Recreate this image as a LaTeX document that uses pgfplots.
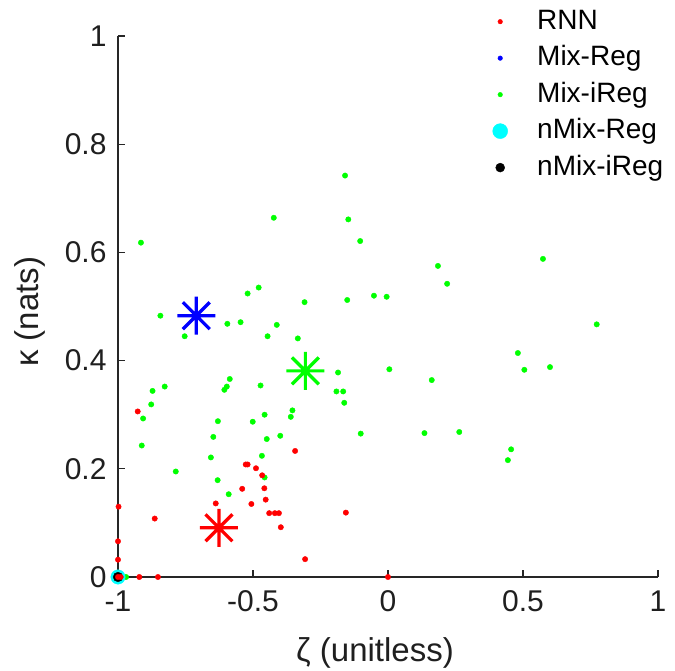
\documentclass[border=0pt]{standalone}
\usepackage{pgfplots}
\pgfplotsset{compat=1.18}
\usepackage{fontspec}
\setmainfont{Liberation Sans}
\definecolor{axgray}{RGB}{38,38,38}
\definecolor{mred}{RGB}{255,0,0}
\definecolor{mblue}{RGB}{0,0,255}
\definecolor{mgreen}{RGB}{0,255,0}
\definecolor{mcyan}{RGB}{0,255,255}
\pgfdeclareplotmark{mstar}{%
  \pgfpathmoveto{\pgfqpoint{-\pgfplotmarksize}{0pt}}%
  \pgfpathlineto{\pgfqpoint{\pgfplotmarksize}{0pt}}%
  \pgfpathmoveto{\pgfqpoint{0pt}{-\pgfplotmarksize}}%
  \pgfpathlineto{\pgfqpoint{0pt}{\pgfplotmarksize}}%
  \pgfpathmoveto{\pgfqpoint{-0.7071\pgfplotmarksize}{-0.7071\pgfplotmarksize}}%
  \pgfpathlineto{\pgfqpoint{0.7071\pgfplotmarksize}{0.7071\pgfplotmarksize}}%
  \pgfpathmoveto{\pgfqpoint{-0.7071\pgfplotmarksize}{0.7071\pgfplotmarksize}}%
  \pgfpathlineto{\pgfqpoint{0.7071\pgfplotmarksize}{-0.7071\pgfplotmarksize}}%
  \pgfusepathqstroke}
\begin{document}
\begin{tikzpicture}
\useasboundingbox (-118bp,-94bp) rectangle (557bp,577bp);
\begin{axis}[
  at={(0,0)}, anchor=south west, scale only axis,
  width=540bp, height=541bp,
  xmin=-1, xmax=1, ymin=0, ymax=1,
  clip=false,
  axis lines=left,
  axis line style={-, line width=1.4bp, color=axgray},
  xtick={-1,-0.5,0,0.5,1},
  ytick={0,0.2,0.4,0.6,0.8,1},
  tick align=inside,
  major tick length=7bp,
  tick style={line width=1.3bp, color=axgray},
  /pgf/number format/assume math mode=true,
  tick label style={font=\fontsize{30bp}{36bp}\selectfont, color=black!88},
  yticklabel style={xshift=-8bp},
  xticklabel style={yshift=-10bp},
  xlabel={ζ (unitless)},
  ylabel={κ (nats)},
  label style={font=\fontsize{33bp}{40bp}\selectfont, color=black!88},
  xlabel style={at={(axis description cs:0.476,-0.157)}, anchor=base},
  ylabel style={at={(axis description cs:-0.163,0.49)}, anchor=center},
  legend cell align=left,
  legend style={draw=none, fill=none, at={(0.688,1.061)}, anchor=north west,
    font=\fontsize{28bp}{33bp}\selectfont,
    nodes={text height=22bp, text depth=7bp},
    row sep=3.5bp,
    /tikz/every odd column/.append style={column sep=27.5bp}},
]
\addlegendimage{only marks, mark=*, color=mred, mark size=2.3bp}
\addlegendentry{RNN}
\addlegendimage{only marks, mark=*, color=mblue, mark size=2.3bp}
\addlegendentry{Mix-Reg}
\addlegendimage{only marks, mark=*, color=mgreen, mark size=2.3bp}
\addlegendentry{Mix-iReg}
\addlegendimage{only marks, mark=*, color=mcyan, mark size=7.5bp}
\addlegendentry{nMix-Reg}
\addlegendimage{only marks, mark=*, color=black, mark size=4.5bp}
\addlegendentry{nMix-iReg}

% Mix-Reg
\addplot[only marks, mark=*, color=mblue, mark size=2.7bp, forget plot] coordinates {(-1,0)};
% Mix-iReg
\addplot[only marks, mark=*, color=mgreen, mark size=2.7bp, forget plot] coordinates {
(-0.159,0.742) (-0.423,0.664) (-0.147,0.661) (-0.915,0.618) (-0.103,0.621)
(0.185,0.575) (0.219,0.542) (0.574,0.588) (-0.479,0.535) (-0.520,0.524)
(-0.309,0.508) (-0.151,0.512) (-0.052,0.520) (-0.005,0.518) (-0.843,0.483)
(-0.595,0.468) (-0.546,0.471) (-0.412,0.466) (0.773,0.467) (-0.753,0.445)
(-0.446,0.445) (-0.334,0.441) (0.481,0.414) (0.505,0.383) (0.600,0.388)
(-0.185,0.378) (0.005,0.384) (0.162,0.364) (-0.872,0.344) (-0.827,0.352)
(-0.586,0.366) (-0.597,0.352) (-0.606,0.346) (-0.472,0.354) (-0.191,0.343)
(-0.166,0.343) (-0.877,0.319) (-0.162,0.322) (-0.907,0.293) (-0.360,0.296)
(-0.354,0.308) (-0.630,0.288) (-0.501,0.287) (-0.457,0.300) (-0.399,0.261)
(-0.647,0.259) (-0.449,0.255) (-0.101,0.265) (0.135,0.266) (0.264,0.268)
(-0.912,0.243) (-0.656,0.221) (-0.467,0.224) (0.456,0.236) (0.444,0.216)
(-0.786,0.195) (-0.457,0.184) (-0.631,0.179) (-0.590,0.153) (-0.970,0)
};
% nMix-Reg
\addplot[only marks, mark=*, color=mcyan, mark size=7.2bp, forget plot] coordinates {(-1,0)};
% nMix-iReg
\addplot[only marks, mark=*, color=black, mark size=4.8bp, forget plot] coordinates {(-1,0)};
% RNN
\addplot[only marks, mark=*, color=mred, mark size=2.7bp, forget plot] coordinates {
(-1,0) (-0.99,0) (-0.921,0) (-0.852,0) (0,0)
(-1,0.032) (-1,0.066) (-0.998,0.130) (-0.864,0.108) (-0.927,0.306)
(-0.527,0.208) (-0.520,0.208) (-0.489,0.201) (-0.466,0.188) (-0.540,0.163)
(-0.458,0.164) (-0.453,0.143) (-0.638,0.136) (-0.506,0.135) (-0.440,0.118)
(-0.419,0.118) (-0.404,0.118) (-0.397,0.092) (-0.344,0.233) (-0.156,0.119)
(-0.307,0.033)
};
% group means
\addplot[only marks, mark=mstar, color=mred, mark size=19bp, line width=3.2bp, forget plot] coordinates {(-0.626,0.091)};
\addplot[only marks, mark=mstar, color=mblue, mark size=19bp, line width=3.2bp, forget plot] coordinates {(-0.710,0.483)};
\addplot[only marks, mark=mstar, color=mgreen, mark size=19bp, line width=3.2bp, forget plot] coordinates {(-0.306,0.381)};
\end{axis}
\end{tikzpicture}
\end{document}
